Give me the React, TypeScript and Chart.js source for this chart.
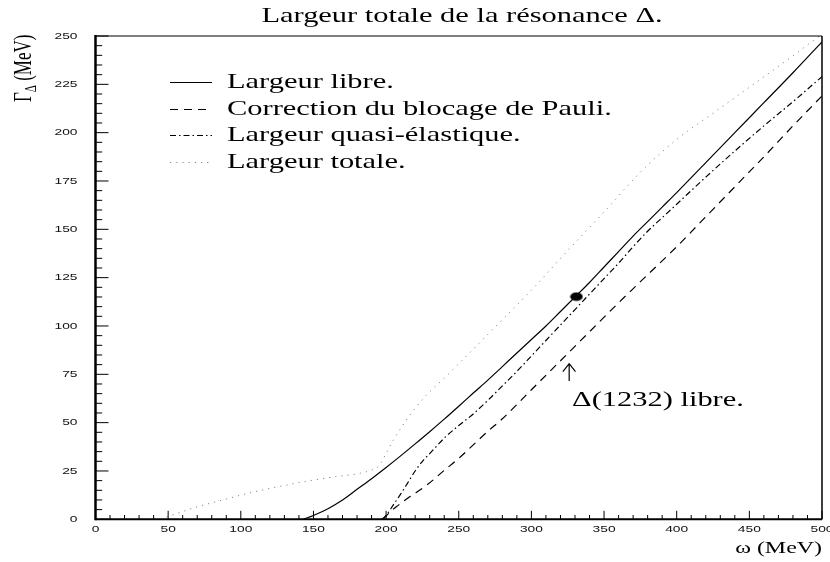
import React, { useEffect, useRef } from "react";
import { Chart, registerables } from "chart.js";

Chart.register(...registerables);

// ---------- texts ----------
const TITLE = "Largeur totale de la résonance Δ.";
const X_TITLE = "ω (MeV)";
const Y_TITLE_MAIN = "Γ";
const Y_TITLE_SUB = "Δ";
const Y_TITLE_UNIT = " (MeV)";
const ANNOTATION = "Δ(1232) libre.";
const SERIES_LABELS = [
  "Largeur libre.",
  "Correction du blocage de Pauli.",
  "Largeur quasi-élastique.",
  "Largeur totale.",
];

// ---------- data (ω in MeV, Γ in MeV) ----------
const LIBRE_W = [143, 150, 160, 170, 180, 190, 200, 210, 220, 230, 240, 250, 260, 270, 280, 290, 300, 310, 320, 330, 340, 350, 360, 370, 380, 390, 400, 420, 440, 460, 480, 500];
const LIBRE_G = [0, 2, 5.5, 10, 15.5, 21, 26.8, 32.8, 39, 45.3, 51.8, 58.5, 65.3, 72, 79, 86, 93, 100, 107.5, 115, 122.5, 130.5, 138.5, 146.5, 154, 161.5, 169, 184.5, 200, 215.5, 231, 247];

const PAULI_W = [198, 203, 207, 216, 228, 240, 250, 260, 270, 280, 300, 320, 340, 360, 380, 400, 420, 440, 460, 480, 500];
const PAULI_G = [0, 4, 6.5, 11.5, 17.7, 25.3, 31.5, 38.5, 45.5, 52, 67, 82, 97, 112, 126.5, 141, 156.5, 172, 187.5, 203.5, 219];

const QUASI_W = [197, 200, 205, 210, 215, 220, 225, 230, 235, 240, 250, 260, 270, 280, 290, 300, 310, 320, 330, 340, 350, 360, 370, 380, 390, 400, 420, 440, 460, 480, 500];
const QUASI_G = [0, 2, 7.5, 13, 19, 25, 30, 34, 38, 42, 48.5, 54.5, 61.5, 69, 76.5, 84.5, 92.5, 100.5, 108.5, 116.5, 124.5, 132.5, 141, 149, 156, 163, 177, 190.5, 203.5, 216, 229];

const TOTAL_W = [45, 50, 60, 70, 80, 90, 100, 110, 120, 130, 140, 150, 160, 170, 180, 190, 195, 200, 205, 210, 215, 220, 225, 230, 240, 250, 260, 275, 300, 325, 350, 375, 400, 425, 450, 475, 500];
const TOTAL_G = [0, 1.5, 4, 6.5, 8.5, 10.5, 12.5, 14.3, 16, 17.5, 19, 20.3, 21.5, 22.5, 23.5, 25.5, 27.5, 34, 41, 47, 52.5, 57.5, 62, 66, 73, 80.5, 88, 99.5, 118.5, 139, 159, 179.5, 196.5, 210, 223.5, 237, 251];

const DELTA_W = [331];
const DELTA_G = [115.2];

const ARROW_W = 326;
const ARROW_TIP_G = 80.5;
const ARROW_TAIL_G = 71.5;
const ANNOT_W = 328;
const ANNOT_G = 58.6;

// ---------- axes ----------
const X_MIN = 0;
const X_MAX = 500;
const Y_MIN = 0;
const Y_MAX = 250;
const X_TICKS = [0, 50, 100, 150, 200, 250, 300, 350, 400, 450, 500];
const X_TICK_LABELS = ["0", "50", "100", "150", "200", "250", "300", "350", "400", "450", "500"];
const Y_TICKS = [0, 25, 50, 75, 100, 125, 150, 175, 200, 225, 250];
const Y_TICK_LABELS = ["0", "25", "50", "75", "100", "125", "150", "175", "200", "225", "250"];
const X_MINOR_STEP = 10;
const Y_MINOR_STEP = 5;

// ---------- styles ----------
const SX = 1.45; // horizontal stretch of lettering
const SERIF = "'Liberation Serif', 'Times New Roman', serif";
const SANS = "'Liberation Sans', Arial, sans-serif";
const DASH_PAULI = [8, 6];
const DASH_QUASI = [6, 3, 1.5, 3];
const DASH_TOTAL = [1.2, 5];
const LEGEND_BASELINES = [88, 115, 141, 168];

const pts = (xs: number[], ys: number[]) => xs.map((x, i) => ({ x, y: ys[i] }));

function text(
  ctx: CanvasRenderingContext2D,
  s: string,
  x: number,
  y: number,
  font: string,
  align: CanvasTextAlign,
  baseline: CanvasTextBaseline,
  color = "#000"
) {
  ctx.save();
  ctx.translate(x, y);
  ctx.scale(SX, 1);
  ctx.font = font;
  ctx.textAlign = align;
  ctx.textBaseline = baseline;
  ctx.fillStyle = color;
  ctx.fillText(s, 0, 0);
  ctx.restore();
}

const decorPlugin = {
  id: "decor",
  afterDatasetsDraw(chart: any) {
    const { ctx, chartArea: a } = chart;
    const xs = chart.scales.x;
    const ys = chart.scales.y;
    ctx.save();
    ctx.strokeStyle = "#000";
    ctx.setLineDash([]);

    const line = (x1: number, y1: number, x2: number, y2: number, w: number) => {
      ctx.lineWidth = w;
      ctx.beginPath();
      ctx.moveTo(x1, y1);
      ctx.lineTo(x2, y2);
      ctx.stroke();
    };
    // frame
    line(a.left, a.top, a.right, a.top, 1.2);
    line(a.right, a.top, a.right, a.bottom, 1.5);
    line(a.left, a.top - 1, a.left, a.bottom + 1, 2.5);
    line(a.left, a.bottom, a.right, a.bottom, 2);

    // ticks (inside)
    for (let v = X_MIN; v <= X_MAX; v += X_MINOR_STEP) {
      const p = xs.getPixelForValue(v);
      const len = X_TICKS.includes(v) ? 8.5 : 4.3;
      line(p, a.bottom, p, a.bottom - len, 1);
    }
    for (let v = Y_MIN; v <= Y_MAX; v += Y_MINOR_STEP) {
      const p = ys.getPixelForValue(v);
      const len = Y_TICKS.includes(v) ? 13 : 6.7;
      line(a.left, p, a.left + len, p, 1);
    }

    // tick labels
    const tickFont = `9.5px ${SANS}`;
    X_TICKS.forEach((v, i) => {
      text(ctx, X_TICK_LABELS[i], xs.getPixelForValue(v), a.bottom + 10, tickFont, "center", "middle", "#111");
    });
    Y_TICKS.forEach((v, i) => {
      text(ctx, Y_TICK_LABELS[i], a.left - 18, ys.getPixelForValue(v), tickFont, "right", "middle", "#111");
    });

    // title
    text(ctx, TITLE, 462, 22, `21px ${SERIF}`, "center", "alphabetic");

    // x axis title
    text(ctx, X_TITLE, a.right, 553, `16.5px ${SERIF}`, "right", "alphabetic");

    // y axis title (rotated)
    ctx.save();
    ctx.translate(31, 102);
    ctx.scale(SX, 1);
    ctx.rotate(-Math.PI / 2);
    ctx.fillStyle = "#000";
    ctx.textAlign = "left";
    ctx.textBaseline = "alphabetic";
    ctx.font = `17px ${SERIF}`;
    ctx.fillText(Y_TITLE_MAIN, 0, 0);
    const wG = ctx.measureText(Y_TITLE_MAIN).width;
    ctx.font = `11px ${SERIF}`;
    ctx.fillText(Y_TITLE_SUB, wG, 3.5);
    const wD = ctx.measureText(Y_TITLE_SUB).width;
    ctx.font = `17px ${SERIF}`;
    ctx.fillText(Y_TITLE_UNIT, wG + wD, 0);
    ctx.restore();

    // legend
    const ds = chart.data.datasets;
    for (let i = 0; i < 4; i++) {
      const d = ds[i];
      const ly = LEGEND_BASELINES[i] - 5.5;
      ctx.save();
      ctx.strokeStyle = d.borderColor;
      ctx.lineWidth = d.borderWidth;
      ctx.setLineDash(d.borderDash || []);
      ctx.beginPath();
      ctx.moveTo(170, ly);
      ctx.lineTo(212, ly);
      ctx.stroke();
      ctx.restore();
      text(ctx, SERIES_LABELS[i], 227, LEGEND_BASELINES[i], `21px ${SERIF}`, "left", "alphabetic");
    }

    // arrow + annotation
    const ax = xs.getPixelForValue(ARROW_W);
    const tipY = ys.getPixelForValue(ARROW_TIP_G);
    const tailY = ys.getPixelForValue(ARROW_TAIL_G);
    ctx.lineWidth = 1.2;
    ctx.beginPath();
    ctx.moveTo(ax, tailY);
    ctx.lineTo(ax, tipY);
    ctx.moveTo(ax - 6.3, tipY + 8);
    ctx.lineTo(ax, tipY);
    ctx.lineTo(ax + 6.3, tipY + 8);
    ctx.stroke();
    text(ctx, ANNOTATION, xs.getPixelForValue(ANNOT_W), ys.getPixelForValue(ANNOT_G), `21px ${SERIF}`, "left", "alphabetic");

    ctx.restore();
  },
};

export default function App() {
  const ref = useRef<HTMLCanvasElement | null>(null);

  useEffect(() => {
    if (!ref.current) return;
    const dot = document.createElement("canvas");
    dot.width = 14;
    dot.height = 10;
    const g = dot.getContext("2d")!;
    g.fillStyle = "#000";
    g.beginPath();
    g.ellipse(7, 5, 6.3, 4.3, 0, 0, Math.PI * 2);
    g.fill();

    const lineDs = (label: string, xs: number[], ys: number[], color: string, width: number, dash: number[]) => ({
      label,
      data: pts(xs, ys),
      borderColor: color,
      borderWidth: width,
      borderDash: dash,
      pointRadius: 0,
      cubicInterpolationMode: "monotone",
      fill: false,
    });

    const chart = new Chart(ref.current, {
      type: "line",
      data: {
        datasets: [
          lineDs(SERIES_LABELS[0], LIBRE_W, LIBRE_G, "#000", 1.2, []),
          lineDs(SERIES_LABELS[1], PAULI_W, PAULI_G, "#000", 1.2, DASH_PAULI),
          lineDs(SERIES_LABELS[2], QUASI_W, QUASI_G, "#000", 1.2, DASH_QUASI),
          lineDs(SERIES_LABELS[3], TOTAL_W, TOTAL_G, "#888", 1, DASH_TOTAL),
          {
            type: "scatter",
            label: "Δ(1232)",
            data: pts(DELTA_W, DELTA_G),
            pointStyle: dot as any,
            pointRadius: 6,
            showLine: false,
            order: -1,
          } as any,
        ] as any,
      },
      options: {
        responsive: false,
        animation: false,
        events: [],
        layout: { padding: { top: 36, right: 8, left: 0, bottom: 0 } },
        plugins: {
          legend: { display: false },
          tooltip: { enabled: false },
          title: { display: false },
        },
        scales: {
          x: {
            type: "linear",
            min: X_MIN,
            max: X_MAX,
            ticks: { display: false, stepSize: 50 },
            grid: { display: false },
            border: { display: false },
            afterFit: (s: any) => {
              s.height = 42.7;
              s.paddingLeft = 0;
              s.paddingRight = 0;
            },
          },
          y: {
            type: "linear",
            min: Y_MIN,
            max: Y_MAX,
            ticks: { display: false, stepSize: 25 },
            grid: { display: false },
            border: { display: false },
            afterFit: (s: any) => {
              s.width = 95.5;
              s.paddingTop = 0;
              s.paddingBottom = 0;
            },
          },
        },
      } as any,
      plugins: [decorPlugin],
    });
    return () => chart.destroy();
  }, []);

  return (
    <div style={{ position: "fixed", left: 0, top: 0, width: 830, height: 562, background: "#fff" }}>
      <canvas ref={ref} width={830} height={562} style={{ display: "block" }} />
    </div>
  );
}
